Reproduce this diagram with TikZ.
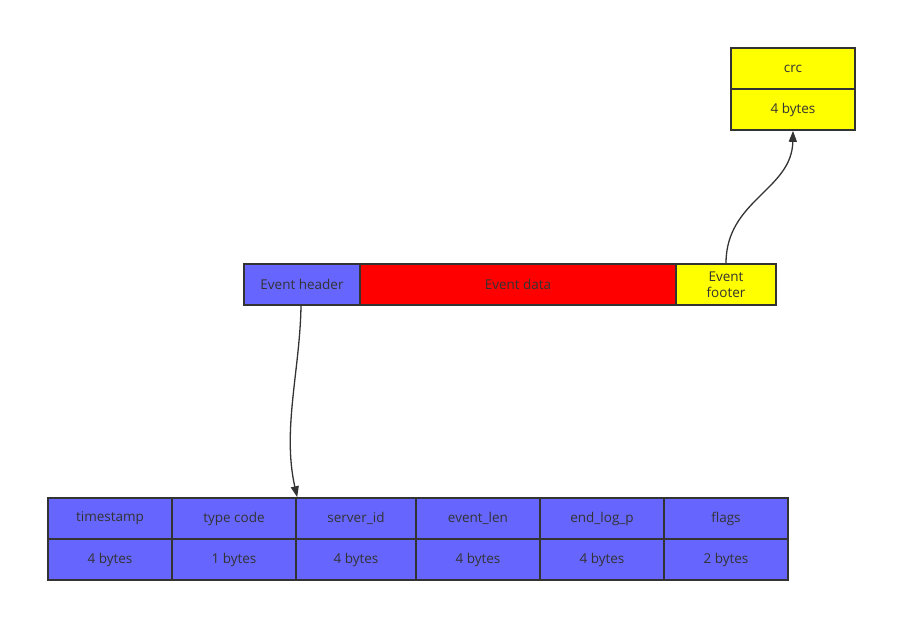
\documentclass[tikz,border=0pt]{standalone}
\usepackage{fontspec}
\setmainfont{Open Sans}
\usetikzlibrary{arrows.meta}
\definecolor{fieldblue}{HTML}{6666FF}
\definecolor{datared}{HTML}{FF0000}
\definecolor{footyellow}{HTML}{FFFF00}
\definecolor{edgegray}{HTML}{333333}
\tikzset{
  cell/.style={draw=edgegray, line width=1.6pt, inner sep=0pt, text=edgegray,
    minimum height=41pt, align=center, font=\fontsize{13.5}{16}\selectfont},
  link/.style={draw=edgegray, line width=1.3pt, -{Triangle[length=11pt,width=8pt]}}
}
\begin{document}
\begin{tikzpicture}[x=1pt, y=-1pt]
    \useasboundingbox (0,0) rectangle (917,642);

    % event row
    \node[cell, fill=fieldblue, minimum width=116pt] (a) at (302, 284.5) {Event header};
    \node[cell, fill=datared, minimum width=316pt] (b) at (518, 284.5) {Event data};
    \node[cell, fill=footyellow, minimum width=100pt] (c) at (726, 284.5) {Event\\footer};

    % crc
    \node[cell, fill=footyellow, minimum width=124pt] (d) at (793, 68.5) {crc};
    \node[cell, fill=footyellow, minimum width=124pt] (e) at (793, 109.5) {4 bytes};

    % header fields
    \node[cell, fill=fieldblue, minimum width=124pt] (f) at (110, 518.5) {timestamp};
    \node[cell, fill=fieldblue, minimum width=124pt] (g) at (234, 518.5) {type code};
    \node[cell, fill=fieldblue, minimum width=120pt] (h) at (356, 518.5) {server\_id};
    \node[cell, fill=fieldblue, minimum width=124pt] (i) at (478, 518.5) {event\_len};
    \node[cell, fill=fieldblue, minimum width=124pt] (j) at (602, 518.5) {end\_log\_p};
    \node[cell, fill=fieldblue, minimum width=124pt] (k) at (726, 518.5) {flags};
    \node[cell, fill=fieldblue, minimum width=124pt] (l) at (110, 559.5) {4 bytes};
    \node[cell, fill=fieldblue, minimum width=124pt] (m) at (234, 559.5) {1 bytes};
    \node[cell, fill=fieldblue, minimum width=120pt] (n) at (356, 559.5) {4 bytes};
    \node[cell, fill=fieldblue, minimum width=124pt] (o) at (478, 559.5) {4 bytes};
    \node[cell, fill=fieldblue, minimum width=124pt] (p) at (602, 559.5) {4 bytes};
    \node[cell, fill=fieldblue, minimum width=124pt] (q) at (726, 559.5) {2 bytes};

    \draw [link] ([xshift=-1pt]a.south) .. controls (300, 370) and (282, 430) .. ([xshift=2pt]h.north west);
    \draw [link] (c.north) .. controls (726, 200) and (792, 190) .. (e.south);

\end{tikzpicture}
\end{document}
